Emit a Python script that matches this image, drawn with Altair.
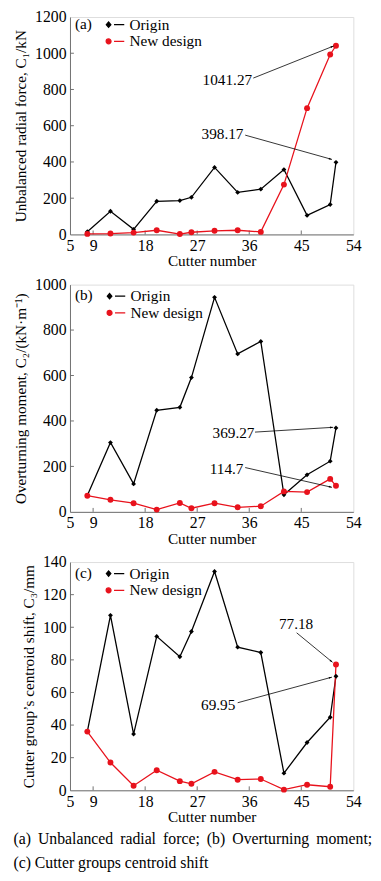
import math
import altair as alt
import pandas as pd

FONT = "'Liberation Serif', 'Times New Roman', Times, serif"
RED = "#e8121c"
FRAME = "#707070"

# ---------------- data ----------------
cutters = [8, 12, 16, 20, 24, 26, 30, 34, 38, 42, 46, 50, 51]
series_names = ["Origin", "New design"]

c1_origin = [15, 128, 28, 183, 187, 205, 370, 232, 250, 358, 105, 165, 398.17]
c1_new = [3, 5, 10, 23, 2, 12, 20, 23, 14, 275, 697, 993, 1041.27]

c2_origin = [72, 305, 123, 447, 460, 591, 944, 695, 750, 75, 163, 223, 369.27]
c2_new = [71, 53, 38, 10, 39, 16, 38, 20, 25, 90, 87, 145, 114.7]

c3_origin = [36, 107.3, 34.5, 94.4, 81.9, 97.4, 134.2, 87.8, 84.5, 10.5, 29.3, 44.8, 69.95]
c3_new = [36, 17, 2.8, 12.3, 5.6, 4, 11.3, 6.5, 6.9, 0.4, 3.4, 2.2, 77.18]

x_ticks = [5, 9, 18, 27, 36, 45, 54]

# annotations: label, text x, text y, align, arrow start (x, y), arrow end (x, y)
ann_a = [("1041.27", 36.5, 852, "right", 36.7, 863, 50.6, 1040),
         ("398.17", 35.0, 554, "right", 35.3, 548, 50.3, 414)]
ann_b = [("369.27", 36.9, 345, "right", 37.0, 351, 50.5, 372),
         ("114.7", 35.0, 187, "right", 35.3, 195, 50.3, 108)]
ann_c = [("77.18", 44.1, 102, "center", 44.2, 96.6, 50.4, 78.5),
         ("69.95", 33.6, 52, "right", 34.0, 53.7, 50.3, 69.4)]

caption = ["(a)\u2009 Unbalanced\u2009 radial\u2009 force;\u2009 (b)\u2009 Overturning\u2009 moment;",
           "(c) Cutter groups centroid shift"]

W = 288
X_DOMAIN = [5, 54]

DIAMOND_PATH = "M-1.35,0 L-1,-0.42 L-0.65,0 L-1,0.42 Z M-0.15,0 L1.45,0"
CIRCLE_PATH = ("M-1.38,0 A0.38,0.38 0 1,0 -0.62,0 A0.38,0.38 0 1,0 -1.38,0 Z "
               "M-0.15,0 L1.45,0")
ARROW_PATH = "M0,0 L-2,-0.6 L-2,0.6 Z"


def panel(origin, new, ymax, ystep, ytitle, tag, height, legend_y, anns):
    df = pd.DataFrame({
        "cutter": cutters * 2,
        "value": origin + new,
        "series": ["Origin"] * len(cutters) + ["New design"] * len(cutters),
    })
    xscale = alt.Scale(domain=X_DOMAIN, nice=False, zero=False)
    xaxis = alt.Axis(values=x_ticks, title="Cutter number", tickSize=0, format="d",
                     labelPadding=3, labelFont=FONT, labelFontSize=16,
                     labelColor="black", titleFont=FONT, titleFontSize=15.5,
                     titleFontWeight="normal", titleColor="black",
                     titlePadding=1, grid=False, domainColor=FRAME,
                     labelFlush=False, labelOverlap=False)
    y_ticks = list(range(0, ymax + 1, ystep))
    yscale = alt.Scale(domain=[0, ymax], nice=False)
    yaxis = alt.Axis(values=y_ticks, title=ytitle, tickSize=0, format="d",
                     labelPadding=4, labelFont=FONT, labelFontSize=16,
                     labelColor="black", titleFont=FONT, titleFontSize=15.5,
                     titleFontWeight="normal", titleColor="black",
                     titlePadding=6, grid=False, domainColor=FRAME,
                     labelOverlap=False, labelFlush=False)
    xs = alt.X("cutter:Q", scale=xscale, axis=xaxis)
    ys = alt.Y("value:Q", scale=yscale, axis=yaxis)

    base = alt.Chart(df).encode(x=xs, y=ys)
    o = base.transform_filter(alt.datum.series == "Origin")
    n = base.transform_filter(alt.datum.series == "New design")

    line_o = o.mark_line(color="black", strokeWidth=1.3)
    pt_o = o.mark_point(shape="diamond", filled=True, color="black", size=24, opacity=1)
    line_n = n.mark_line(color=RED, strokeWidth=1.3)
    pt_n = n.mark_point(shape="circle", filled=True, color=RED, size=36, opacity=1)

    leg = alt.Legend(title=tag, orient="none", legendX=5, legendY=legend_y,
                     titleOrient="left", titleAnchor="start", titleBaseline="top",
                     titleFont=FONT, titleFontSize=15.5, titleFontWeight="normal",
                     titleColor="black", titlePadding=15,
                     labelFont=FONT, labelFontSize=15.5, labelColor="black",
                     labelOffset=7, symbolSize=169, symbolStrokeWidth=1.3,
                     rowPadding=0, padding=0)
    legend_layer = alt.Chart(df).transform_filter("false").mark_point(
        filled=True, opacity=1).encode(
        x=xs, y=ys,
        fill=alt.Fill("series:N", scale=alt.Scale(domain=series_names, range=["black", RED]), legend=leg),
        stroke=alt.Stroke("series:N", scale=alt.Scale(domain=series_names, range=["black", RED]), legend=leg),
        shape=alt.Shape("series:N", scale=alt.Scale(domain=series_names, range=[DIAMOND_PATH, CIRCLE_PATH]), legend=leg),
    )

    # inward ticks
    xt = pd.DataFrame({"t": x_ticks[1:-1]})
    xtick = alt.Chart(xt).mark_rule(color=FRAME, strokeWidth=1).encode(
        x=alt.X("t:Q", scale=xscale, axis=xaxis),
        y=alt.value(height), y2=alt.value(height - 4))
    yt = pd.DataFrame({"t": y_ticks[1:-1]})
    ytick = alt.Chart(yt).mark_rule(color=FRAME, strokeWidth=1).encode(
        y=alt.Y("t:Q", scale=yscale, axis=yaxis),
        x=alt.value(0), x2=alt.value(4))

    # annotations
    xs_px = W / (X_DOMAIN[1] - X_DOMAIN[0])
    ys_px = height / ymax
    adf = pd.DataFrame([{
        "label": a[0], "tx": a[1], "ty": a[2], "align": a[3],
        "x1": a[4], "y1": a[5], "x2": a[6], "y2": a[7],
        "ang": math.degrees(math.atan2(-(a[7] - a[5]) * ys_px, (a[6] - a[4]) * xs_px)) % 360,
    } for a in anns])
    ax = lambda f: alt.X(f, type="quantitative", scale=xscale, axis=xaxis)
    ay = lambda f: alt.Y(f, type="quantitative", scale=yscale, axis=yaxis)
    ann_layers = []
    for _, r in adf.iterrows():
        sub = adf[adf["label"] == r["label"]]
        ann_layers.append(alt.Chart(sub).mark_text(
            font=FONT, fontSize=15.5, color="black", align=r["align"], baseline="middle").encode(
            x=ax("tx"), y=ay("ty"), text="label:N"))
    arrow_line = alt.Chart(adf).mark_rule(color="black", strokeWidth=0.8).encode(
        x=ax("x1"), y=ay("y1"), x2="x2:Q", y2="y2:Q")
    arrow_head = alt.Chart(adf).mark_point(shape=ARROW_PATH, filled=True, color="black",
                                           size=10, opacity=1).encode(
        x=ax("x2"), y=ay("y2"), angle=alt.Angle("ang:Q", scale=None))

    return alt.layer(xtick, ytick, line_o, line_n, pt_o, pt_n, legend_layer,
                     arrow_line, arrow_head, *ann_layers).properties(width=W, height=height)


pa = panel(c1_origin, c1_new, 1200, 200, "Unbalanced radial force, C\u2081/kN", "(a)", 221, 0, ann_a)
pb = panel(c2_origin, c2_new, 1000, 200, "Overturning moment, C\u2082/(kN\u00b7m\u207b\u00b9)", "(b)", 231, 4, ann_b)
pc = panel(c3_origin, c3_new, 140, 20, "Cutter group\u2019s centroid shift, C\u2083/mm", "(c)", 232, 4, ann_c)

chart = alt.vconcat(pa, pb, pc, spacing=51, bounds="flush").resolve_scale(
    fill="independent", stroke="independent", shape="independent", y="independent"
).resolve_legend(
    fill="independent", stroke="independent", shape="independent"
).properties(
    padding={"left": 5, "top": -7, "right": 0, "bottom": 0},
    title=alt.TitleParams(text=caption, orient="bottom", anchor="start", font=FONT,
                          fontSize=16, fontWeight="normal", color="black",
                          lineHeight=24, offset=6, frame="bounds"),
).configure_view(stroke=FRAME, strokeWidth=1).configure_axis(
    labelOverlap=False
).configure(background="white", font=FONT)

chart.save("out.html", embed_options={"renderer": "svg", "actions": False})
